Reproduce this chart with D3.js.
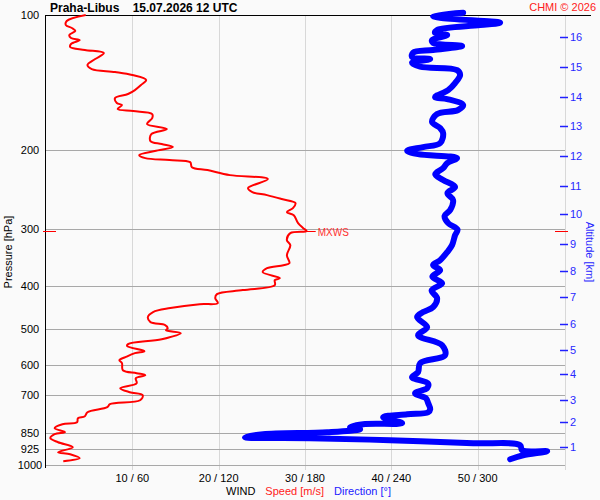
<!DOCTYPE html>
<html><head><meta charset="utf-8">
<script src="https://cdn.jsdelivr.net/npm/d3@7"></script>
<style>
html,body{margin:0;padding:0;background:#fafafa;}
svg{display:block;font-family:Arial,"Liberation Sans",sans-serif;}
</style></head>
<body>
<svg id="c" width="600" height="500"></svg>
<script>
// ---- data ----
const speedP = [100,103.1,105.3,106.9,108.5,110.8,112.5,113.7,116.0,117.8,119.6,121.5,125.3,129.2,131.9,133.9,136.0,139.5,143.2,146.9,149.9,153.0,157.0,158.6,161.9,163.6,166.1,169.6,174.8,179.4,184.0,190.8,193.7,196.7,200.8,205.0,208.2,210.3,212.5,218.0,221.3,227.1,231.8,242.7,247.7,251.6,256.7,262.1,268.9,274.5,278.8,290.4,298.0,302.6,305.7,316.8,325.1,342.2,356.5,360.2,365.8,373.3,384.9,388.9,399.0,409.3,417.8,426.5,437.5,439.8,448.8,458.1,470.0,482.3,489.7,497.3,502.5,510.3,526.2,539.8,545.4,559.5,565.3,577.0,586.0,595.1,616.9,626.4,632.9,642.7,659.4,676.4,690.5,701.2,719.4,734.3,745.7,765.0,780.8,788.9,805.3,813.5,830.4,847.5,856.3,874.0,892.1,915.2,939.1,948.8,968.3,983.3];
const speedV = [4.6,2.4,2.3,3.0,3.4,2.7,2.9,3.9,2.9,2.8,4.5,6.7,5.7,4.8,5.3,8.0,10.0,11.6,11.0,10.3,9.5,8.0,8.2,8.8,8.3,10.1,12.3,12.3,11.7,14.0,12.2,12.1,13.4,14.7,12.6,10.8,11.5,14.3,16.7,16.9,18.7,21.3,25.7,23.4,23.9,25.6,27.3,28.9,28.6,27.9,28.7,29.2,29.8,30.2,28.3,27.9,28.3,27.9,28.2,27.5,25.6,25.1,27.1,26.5,26.5,22.8,19.8,19.6,19.9,17.8,14.4,12.4,11.8,12.1,13.8,14.1,13.9,15.6,13.4,9.5,9.4,11.4,10.3,9.2,8.5,8.8,8.9,10.5,11.5,10.4,10.5,8.6,9.7,11.2,10.9,7.4,7.1,4.8,4.5,3.7,3.6,1.9,1.0,2.2,1.0,0.5,1.4,3.1,1.4,2.8,3.9,2.0];

const dirP = [98.8,100.5,101.5,104.0,105.3,108.0,109.7,110.8,113.7,115.4,117.2,119.6,121.3,124.0,125.3,127.7,130.3,132.6,136.0,141.7,146.9,152.2,153.8,158.6,162.7,166.1,173.0,178.5,183.1,192.8,196.7,200.5,203.9,208.2,213.5,219.1,226.0,232.9,241.4,249.0,258.0,271.6,280.0,290.4,300.0,308.8,325.1,337.0,351.1,360.0,369.5,382.0,395.0,410.0,426.5,446.7,458.1,470.0,494.9,515.6,542.9,571.2,595.1,623.2,639.3,660.0,676.4,694.0,712.0,730.6,753.4,765.0,772.9,784.9,809.1,813.5,826.1,834.7,847.5,856.3,869.6,874.0,883.1,896.8,906.0,929.6,934.4,953.8,973.4];
const dirV = [289.9,269.0,273.9,315.6,301.7,271.8,270.4,278.8,268.3,269.0,289.2,269.0,255.1,254.4,267.0,254.4,260.0,285.7,287.8,284.3,279.5,270.4,278.8,289.9,286.4,271.8,268.3,273.9,276.0,273.9,262.1,251.0,258.6,285.7,278.8,276.0,270.5,276.0,284.3,279.0,282.9,280.9,277.0,279.5,286.0,284.3,282.2,278.8,273.9,269.0,273.9,268.5,275.3,268.0,271.8,269.0,262.1,257.9,264.9,258.6,275.3,277.4,260.0,258.6,254.4,265.5,264.9,256.5,264.0,265.6,267.0,265.6,251.0,234.3,247.5,220.4,211.3,218.3,195.4,150.9,138.3,183.5,239.1,296.9,329.5,330.9,348.3,331.6,322.6];

const pressureTicks = [100,200,300,400,500,600,700,850,925,1000];
const gridPressures = [200,300,400,500,600,700,850,925,1000];
const speedTicks = [10,20,30,40,50];
const dirTicks = [60,120,180,240,300];
const altKm = [1,2,3,4,5,6,7,8,9,10,11,12,13,14,15,16];
const altP = [915.2,806.4,718.2,630.5,555.3,487.2,423.6,370.8,322.8,277.7,239.9,205.5,176.6,152.2,130.5,112.1];
const maxWind = {p:302.6, v:30.2};
const title = "Praha-Libus    15.07.2026 12 UTC";

// ---- scales ----
const L=46, R=565, T=15, B=464.5;
const y = d3.scaleLog().domain([100,1000]).range([T,B]);
const xs = d3.scaleLinear().domain([0,60]).range([L,564]);
const xd = d3.scaleLinear().domain([0,360]).range([L,564]);

const svg = d3.select("#c");
svg.append("rect").attr("width",600).attr("height",500).attr("fill","#fafafa");

// vertical grid
svg.selectAll(".vg").data(speedTicks).enter().append("line")
  .attr("x1",d=>Math.round(xs(d))+0.5).attr("x2",d=>Math.round(xs(d))+0.5)
  .attr("y1",T).attr("y2",470).attr("stroke","#d8d8d8").attr("stroke-width",1);
// right axis line
svg.append("line").attr("x1",R+0.5).attr("x2",R+0.5).attr("y1",T).attr("y2",470)
  .attr("stroke","#d8d8d8");
// horizontal grid
svg.selectAll(".hg").data(gridPressures).enter().append("line")
  .attr("x1",L).attr("x2",R)
  .attr("y1",d=>Math.round(y(d))+0.5).attr("y2",d=>Math.round(y(d))+0.5)
  .attr("stroke","#a8a8a8").attr("stroke-width",1);
// top border
svg.append("line").attr("x1",L).attr("x2",591).attr("y1",T+0.5).attr("y2",T+0.5)
  .attr("stroke","#000");
// left axis
svg.append("line").attr("x1",L-0.5).attr("x2",L-0.5).attr("y1",T).attr("y2",468)
  .attr("stroke","#000");

// left labels
svg.selectAll(".pl").data(pressureTicks).enter().append("text")
  .attr("x",30).attr("y",d=>y(d)+4).attr("text-anchor","middle")
  .attr("font-size",11).attr("fill","#000").text(d=>d);
svg.append("text").attr("transform","translate(12,252) rotate(-90)")
  .attr("text-anchor","middle").attr("font-size",11).attr("fill","#000").text("Pressure [hPa]");

// bottom labels
svg.selectAll(".bl").data(speedTicks).enter().append("text")
  .attr("x",d=>xs(d)).attr("y",482).attr("text-anchor","middle")
  .attr("font-size",11).attr("fill","#000").text((d,i)=>d+" / "+dirTicks[i]);
const leg = svg.append("text").attr("x",226).attr("y",495).attr("font-size",11);
leg.append("tspan").attr("fill","#000").text("WIND");
leg.append("tspan").attr("fill","#ff2020").attr("dx",10).text("Speed [m/s]");
leg.append("tspan").attr("fill","#2020ff").attr("dx",10).text("Direction [°]");

// right altitude axis
svg.selectAll(".at").data(altP).enter().append("line")
  .attr("x1",560).attr("x2",568).attr("y1",d=>Math.round(y(d))+0.5).attr("y2",d=>Math.round(y(d))+0.5)
  .attr("stroke","#2020ff").attr("stroke-width",1.5);
svg.selectAll(".al").data(altP).enter().append("text")
  .attr("x",570).attr("y",d=>y(d)+4).attr("font-size",11).attr("fill","#2828ff")
  .text((d,i)=>altKm[i]);
svg.append("text").attr("transform","translate(586,252) rotate(90)")
  .attr("text-anchor","middle").attr("font-size",11).attr("fill","#2828ff").text("Altitude [km]");

// title
svg.append("text").attr("x",50).attr("y",12).attr("font-size",12).attr("font-weight","bold")
  .attr("fill","#000").attr("xml:space","preserve").style("white-space","pre").text(title);
svg.append("text").attr("x",596).attr("y",11).attr("text-anchor","end").attr("font-size",11)
  .attr("fill","#ff2020").text("CHMI © 2026");

// direction line
const dirData = dirP.map((p,i)=>({p, v:dirV[i]}));
svg.append("path").datum(dirData)
  .attr("d",d3.line().curve(d3.curveCatmullRom.alpha(0.5)).x(d=>xd(d.v)).y(d=>y(d.p)))
  .attr("fill","none").attr("stroke","#0000ff").attr("stroke-width",6)
  .attr("stroke-linejoin","round").attr("stroke-linecap","round");

// speed line
const spData = speedP.map((p,i)=>({p, v:speedV[i]}));
svg.append("path").datum(spData)
  .attr("d",d3.line().curve(d3.curveCatmullRom.alpha(0.5)).x(d=>xs(d.v)).y(d=>y(d.p)))
  .attr("fill","none").attr("stroke","#ff0000").attr("stroke-width",2)
  .attr("stroke-linejoin","round");

// max wind markers
const my = Math.round(y(maxWind.p))+0.5;
svg.append("line").attr("x1",43).attr("x2",56).attr("y1",my).attr("y2",my).attr("stroke","#ff0000");
svg.append("line").attr("x1",555).attr("x2",568).attr("y1",my).attr("y2",my).attr("stroke","#ff0000");
svg.append("line").attr("x1",xs(maxWind.v)).attr("x2",xs(maxWind.v)+9).attr("y1",my).attr("y2",my).attr("stroke","#ff0000");
svg.append("text").attr("x",xs(maxWind.v)+11).attr("y",my+4).attr("font-size",10)
  .attr("fill","#ff3030").text("MXWS");
</script>
</body></html>
